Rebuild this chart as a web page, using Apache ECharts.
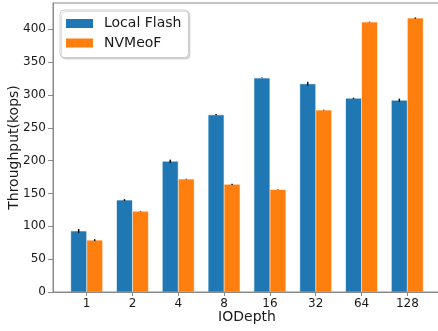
<!DOCTYPE html>
<html>
<head>
<meta charset="utf-8">
<script src="https://cdn.jsdelivr.net/npm/echarts@6/dist/echarts.min.js"></script>
<style>
  html, body { margin: 0; padding: 0; background: #fff; }
  #chart { width: 438px; height: 331px; }
</style>
</head>
<body>
<div id="chart"></div>
<script>
// IO depth levels on the x axis
const ioDepths = ['1', '2', '4', '8', '16', '32', '64', '128'];
// Throughput in kops
const localFlash = [93, 140, 199, 270, 326, 317, 295, 292];
const nvmeof = [79, 123, 172, 164, 156, 277, 411, 417];
// Standard deviation for the error bars
const localFlashErr = [3, 1.5, 2.5, 1, 0.5, 3, 1, 2.5];
const nvmeofErr = [1.5, 0.5, 0.5, 1, 0.5, 0.5, 0.5, 1];
const yTicks = [0, 50, 100, 150, 200, 250, 300, 350, 400];

const BAR_W = 16;
const FONT = 'DejaVu Sans';
const TEXT = '#1a1a1a';
const SPINE = '#8a8a8a';

function pairs(vals) { return vals.map((v, i) => [i, v]); }

function errorSeries(vals, errs, side) {
  return {
    type: 'custom',
    silent: true,
    z: 5,
    data: vals.map((v, i) => [i, v, errs[i]]),
    renderItem: function (params, api) {
      const x = api.value(0), v = api.value(1), e = api.value(2);
      const top = api.coord([x, v + e]);
      const bot = api.coord([x, v - e]);
      const cx = top[0] + side * BAR_W / 2;
      return {
        type: 'line',
        shape: { x1: cx, y1: top[1], x2: cx, y2: bot[1] },
        style: { stroke: '#111', lineWidth: 1.5 }
      };
    }
  };
}

const chart = echarts.init(document.getElementById('chart'), null, { renderer: 'canvas' });
chart.setOption({
  animation: false,
  textStyle: { fontFamily: FONT },
  grid: {
    left: 53, top: 3, width: 388, height: 289,
    containLabel: false,
    outerBoundsMode: 'none',
    show: true, borderColor: SPINE, borderWidth: 1
  },
  legend: {
    left: 60, top: 10,
    orient: 'vertical',
    padding: [5, 7, 6, 6],
    itemWidth: 27, itemHeight: 9, itemGap: 2.5,
    icon: 'rect',
    backgroundColor: '#fff',
    borderColor: '#cccccc', borderWidth: 1, borderRadius: 4,
    shadowColor: 'rgba(0,0,0,0.15)', shadowOffsetX: 1.5, shadowOffsetY: 1.5, shadowBlur: 1,
    itemStyle: { borderWidth: 0 },
    textStyle: { fontFamily: FONT, fontSize: 14, color: TEXT, lineHeight: 17, padding: [0, 0, 0, 6] },
    data: ['Local Flash', 'NVMeoF']
  },
  xAxis: {
    type: 'value',
    min: -0.735, max: 7.735,
    name: 'IODepth',
    nameLocation: 'middle',
    nameGap: 25,
    nameMoveOverlap: false,
    nameTextStyle: { fontFamily: FONT, fontSize: 14, color: TEXT, verticalAlign: 'middle' },
    axisLine: { show: true, onZero: false, lineStyle: { color: SPINE, width: 1 } },
    axisTick: { show: true, length: 4, customValues: ioDepths.map((d, i) => i), lineStyle: { color: SPINE } },
    axisLabel: {
      customValues: ioDepths.map((d, i) => i),
      formatter: v => ioDepths[Math.round(v)],
      fontFamily: FONT, fontSize: 12, color: TEXT, margin: 6
    },
    splitLine: { show: false }
  },
  yAxis: {
    type: 'value',
    min: 0, max: 440,
    name: 'Throughput(kops)',
    nameLocation: 'middle',
    nameGap: 39,
    nameMoveOverlap: false,
    nameTextStyle: { fontFamily: FONT, fontSize: 14, color: TEXT, verticalAlign: 'middle' },
    axisLine: { show: true, onZero: false, lineStyle: { color: SPINE, width: 1 } },
    axisTick: { show: true, length: 5, customValues: yTicks, lineStyle: { color: SPINE } },
    axisLabel: { customValues: yTicks, fontFamily: FONT, fontSize: 12, color: TEXT, margin: 7 },
    splitLine: { show: false }
  },
  series: [
    {
      name: 'Local Flash', type: 'bar',
      data: pairs(localFlash),
      barWidth: BAR_W, barGap: '0%',
      itemStyle: { color: '#1f77b4', borderColor: 'rgba(31,119,180,0.35)', borderWidth: 1 }
    },
    {
      name: 'NVMeoF', type: 'bar',
      data: pairs(nvmeof),
      barWidth: BAR_W, barGap: '0%',
      itemStyle: { color: '#ff7f0e', borderColor: 'rgba(255,127,14,0.35)', borderWidth: 1 }
    },
    errorSeries(localFlash, localFlashErr, -1),
    errorSeries(nvmeof, nvmeofErr, 1)
  ]
});
</script>
</body>
</html>
